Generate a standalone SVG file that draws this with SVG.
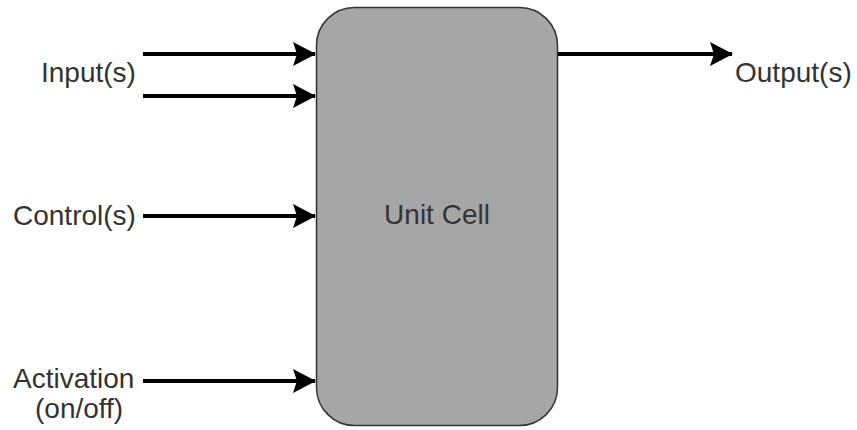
<svg xmlns="http://www.w3.org/2000/svg" width="857" height="430" viewBox="0 0 857 430">
<defs>
<style>
.lbl{font-family:"Liberation Sans",Arial,sans-serif;font-size:28px;fill:#333}
.wire{stroke:#000;stroke-width:4;fill:none}
</style>
<marker id="ah" viewBox="0 0 23 24" refX="22" refY="12" markerWidth="23" markerHeight="24" markerUnits="userSpaceOnUse" orient="auto">
<path d="M0,0 L23,12 L0,24 L4,12 Z" fill="#000"/>
</marker>
</defs>
<rect width="857" height="430" fill="#fff"/>
<g id="unit-cell">
<rect x="316.5" y="7.5" width="241" height="418" rx="38" ry="38" fill="#a6a6a6" stroke="#333" stroke-width="1.5"/>
<text class="lbl" x="437" y="224" text-anchor="middle">Unit Cell</text>
</g>
<g id="input-label"><text class="lbl" x="41" y="82">Input(s)</text></g>
<g id="control-label"><text class="lbl" x="13" y="225">Control(s)</text></g>
<g id="activation-label"><text class="lbl" x="13" y="388">Activation</text><text class="lbl" x="35" y="418">(on/off)</text></g>
<g id="output-label"><text class="lbl" x="735" y="82">Output(s)</text></g>
<g id="connectors">
<line class="wire" x1="143" y1="54" x2="315" y2="54" marker-end="url(#ah)"/>
<line class="wire" x1="143" y1="96" x2="315" y2="96" marker-end="url(#ah)"/>
<line class="wire" x1="143" y1="216" x2="315" y2="216" marker-end="url(#ah)"/>
<line class="wire" x1="143" y1="381" x2="315" y2="381" marker-end="url(#ah)"/>
<line class="wire" x1="558" y1="54" x2="732" y2="54" marker-end="url(#ah)"/>
</g>
</svg>
